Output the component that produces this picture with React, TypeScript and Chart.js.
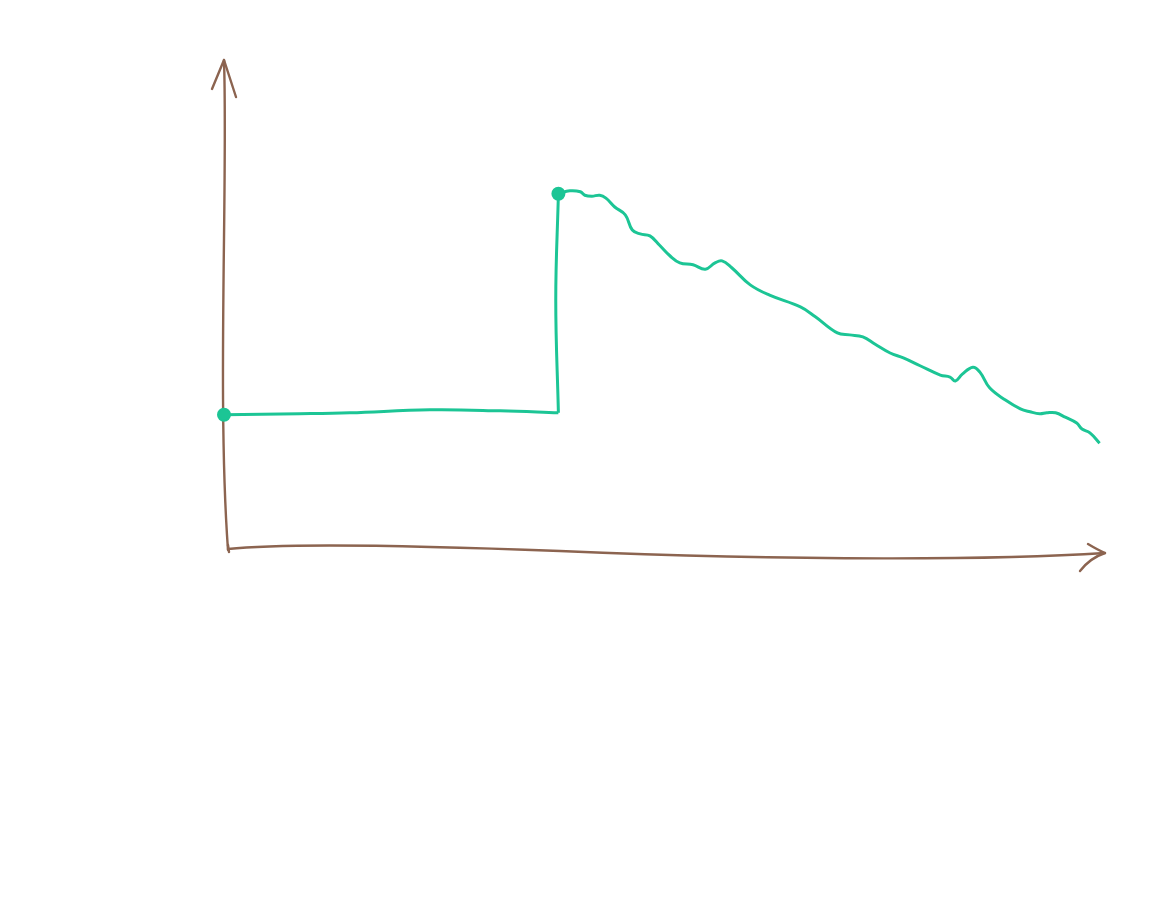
import React, { useEffect, useRef } from "react";
import { Chart, registerables } from "chart.js";

Chart.register(...registerables);

// Flat stretch before the jump
const flatX = [0, 8.6, 14.3, 23.4, 31.4, 38.0];
const flatY = [27.6, 27.8, 28.0, 28.6, 28.4, 28.0];

// The jump
const jumpX = [38.0, 37.7, 38.0];
const jumpY = [28.0, 51.0, 72.7];

// Decreasing wiggly stretch after the jump
const tailX = [
  38.0, 39.3, 40.5, 41.0, 41.8, 42.7, 43.4, 44.4, 45.6, 46.4, 47.3, 48.4, 49.5, 50.7, 51.8,
  53.3, 54.7, 55.8, 56.6, 57.7, 59.8, 62.0, 65.5, 67.2, 69.7, 71.1, 72.6, 74.0, 75.7, 77.2,
  79.1, 81.4, 82.5, 83.1, 83.9, 85.1, 85.9, 87.0, 88.8, 90.5, 91.6, 92.7, 93.5, 94.5, 95.6,
  96.9, 97.5, 98.4, 99.5,
];
const tailY = [
  72.7, 73.3, 73.1, 72.4, 72.2, 72.4, 71.8, 70.0, 68.4, 65.3, 64.5, 64.1, 62.2, 60.0, 58.6,
  58.2, 57.3, 58.6, 59.0, 57.6, 54.1, 52.0, 49.6, 47.6, 44.3, 43.9, 43.5, 42.0, 40.2, 39.2,
  37.6, 35.7, 35.3, 34.5, 35.9, 37.3, 36.3, 33.1, 30.6, 28.8, 28.2, 27.8, 28.0, 28.0, 27.1,
  25.9, 24.7, 23.9, 21.8,
];

const GREEN = "#1cc595";
const BROWN = "#8c6450";

const toPts = (xs: number[], ys: number[]) => xs.map((x, i) => ({ x, y: ys[i] }));

const sketchAxes = {
  id: "sketchAxes",
  beforeDatasetsDraw(chart: any) {
    const { ctx, chartArea } = chart;
    const L = chartArea.left;
    const B = chartArea.bottom;
    const px = (x: number) => L + (x - 224);
    const py = (y: number) => B + (y - 550);
    ctx.save();
    ctx.strokeStyle = BROWN;
    ctx.lineWidth = 2.4;
    ctx.lineCap = "round";
    ctx.lineJoin = "round";
    // y axis
    ctx.beginPath();
    ctx.moveTo(px(228), py(550));
    ctx.bezierCurveTo(px(217), py(400), px(228), py(180), px(224), py(60));
    ctx.stroke();
    ctx.beginPath();
    ctx.moveTo(px(212), py(89));
    ctx.lineTo(px(224), py(60));
    ctx.lineTo(px(236), py(97));
    ctx.stroke();
    // x axis
    ctx.beginPath();
    ctx.moveTo(px(228), py(549));
    ctx.quadraticCurveTo(px(300), py(541), px(560), py(551));
    ctx.bezierCurveTo(px(800), py(561), px(1000), py(560), px(1105), py(553));
    ctx.stroke();
    ctx.beginPath();
    ctx.moveTo(px(1088), py(544));
    ctx.quadraticCurveTo(px(1098), py(550), px(1105), py(553));
    ctx.quadraticCurveTo(px(1090), py(558), px(1080), py(571));
    ctx.stroke();
    ctx.beginPath();
    ctx.moveTo(px(228), py(545));
    ctx.lineTo(px(229), py(552));
    ctx.stroke();
    ctx.restore();
  },
};

export default function App() {
  const ref = useRef<HTMLCanvasElement>(null);
  useEffect(() => {
    if (!ref.current) return;
    const common = {
      borderColor: GREEN,
      backgroundColor: GREEN,
      borderWidth: 3,
      tension: 0.4,
      fill: false,
      clip: false as any,
      pointHoverRadius: 0,
    };
    const chart = new Chart(ref.current, {
      type: "line",
      data: {
        datasets: [
          {
            ...common,
            data: toPts(flatX, flatY),
            pointRadius: flatX.map((_, i) => (i === 0 ? 6 : 0)),
            pointBorderWidth: 2,
          },
          { ...common, data: toPts(jumpX, jumpY), pointRadius: 0 },
          {
            ...common,
            data: toPts(tailX, tailY),
            pointRadius: tailX.map((_, i) => (i === 0 ? 6 : 0)),
            pointBorderWidth: 2,
          },
        ],
      },
      options: {
        animation: false,
        responsive: false,
        maintainAspectRatio: false,
        layout: { padding: { left: 216, right: 55, top: 52, bottom: 364 } },
        plugins: { legend: { display: false }, tooltip: { enabled: false } },
        scales: {
          x: { type: "linear", min: 0, max: 100, display: false },
          y: { type: "linear", min: 0, max: 100, display: false },
        },
      },
      plugins: [sketchAxes],
    });
    return () => chart.destroy();
  }, []);
  return (
    <div style={{ width: 1151, height: 906 }}>
      <canvas ref={ref} width={1151} height={906} style={{ display: "block" }} />
    </div>
  );
}
